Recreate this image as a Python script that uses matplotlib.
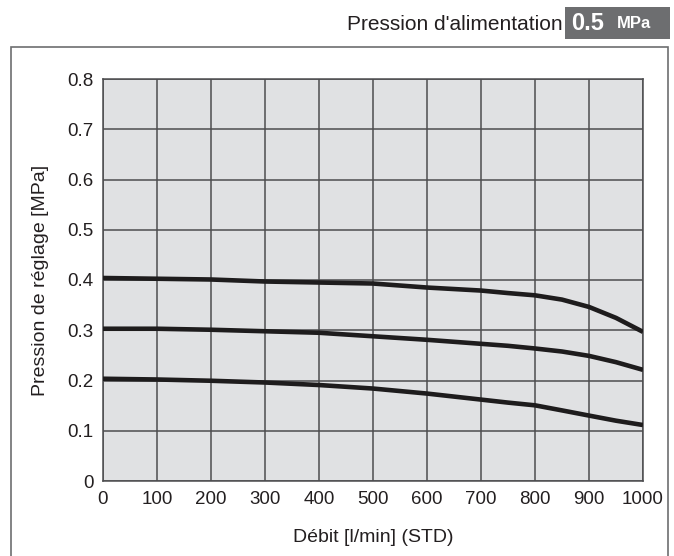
import matplotlib
matplotlib.use("Agg")
import matplotlib.pyplot as plt
from matplotlib.patches import Rectangle

plt.rcParams['font.family'] = ['Liberation Sans', 'DejaVu Sans']

# flow rate [l/min] and set pressure [MPa] for three set points
flow = [0, 100, 200, 300, 400, 500, 600, 700, 750, 800, 850, 900, 950, 1000]
p_040 = [0.404, 0.4025, 0.401, 0.397, 0.395, 0.393, 0.385, 0.379, 0.374, 0.3695,
         0.361, 0.3464, 0.3246, 0.2968]
p_030 = [0.303, 0.303, 0.301, 0.298, 0.295, 0.288, 0.281, 0.273, 0.269, 0.2637,
         0.2577, 0.249, 0.2365, 0.2212]
p_020 = [0.2035, 0.202, 0.1995, 0.196, 0.191, 0.184, 0.174, 0.162, 0.156, 0.1506,
         0.1405, 0.1302, 0.12, 0.1114]

xticks = [0, 100, 200, 300, 400, 500, 600, 700, 800, 900, 1000]
yticks = [0, 0.1, 0.2, 0.3, 0.4, 0.5, 0.6, 0.7, 0.8]
ylabels = ['0', '0.1', '0.2', '0.3', '0.4', '0.5', '0.6', '0.7', '0.8']

fig = plt.figure(figsize=(6.74, 5.56), dpi=100)
W, H = 674.0, 556.0

# outer frame (bottom runs off the image)
fig.patches.append(Rectangle((11 / W, -0.05), (668 - 11) / W, 1 - 47 / H + 0.05,
                             transform=fig.transFigure, fill=False,
                             edgecolor='#6d6e70', linewidth=1.2))

ax = fig.add_axes([103 / W, 1 - 481 / H, (643 - 103) / W, (481 - 79) / H])
ax.set_facecolor('#e0e1e3')

for p in (p_040, p_030, p_020):
    ax.plot(flow, p, color='#1e1c1d', linewidth=3.3, solid_capstyle='butt',
            solid_joinstyle='round', zorder=3)

ax.set_xlim(0, 1000)
ax.set_ylim(0, 0.8)
ax.set_xticks(xticks)
ax.set_yticks(yticks)
ax.set_yticklabels(ylabels)
ax.grid(True, color='#4d4d4f', linewidth=1.1)
ax.tick_params(length=0, labelsize=13.5, pad=7, colors='#231f20')
for s in ax.spines.values():
    s.set_color('#4d4d4f')
    s.set_linewidth(1.1)

ax.set_xlabel('Débit [l/min] (STD)', fontsize=14, color='#231f20', labelpad=15)
ax.set_ylabel('Pression de réglage [MPa]', fontsize=14, color='#231f20', labelpad=13)

# supply pressure header
fig.text(563 / W, 1 - 25 / H, "Pression d'alimentation", ha='right', va='center',
         fontsize=15, color='#231f20')
fig.patches.append(Rectangle((565 / W, 1 - 39 / H), (670 - 565) / W, 32 / H,
                             transform=fig.transFigure, facecolor='#6d6e70',
                             edgecolor='none'))
fig.text(571 / W, 1 - 23 / H, '0.5', ha='left', va='center', fontsize=17,
         fontweight='bold', color='white')
fig.text(617 / W, 1 - 24 / H, 'MPa', ha='left', va='center', fontsize=12,
         fontweight='bold', color='white')

fig.savefig('out.png', dpi=100)
